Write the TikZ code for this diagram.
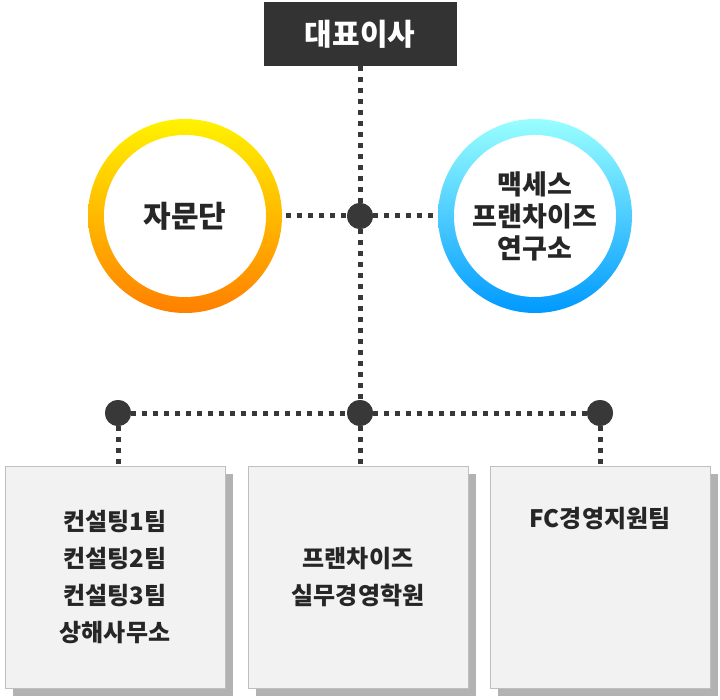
\documentclass[tikz,border=0pt]{standalone}
\usepackage{fontspec}
\setmainfont{Noto Sans CJK KR}
\usetikzlibrary{positioning,shadows}
\definecolor{dotgray}{HTML}{383838}
\begin{document}
\begin{tikzpicture}[x=1pt,y=-1pt,
    link/.style={dotgray, line width=5pt, dash pattern=on 5pt off 6pt},
    joint/.style={circle, fill=dotgray, minimum size=26pt, inner sep=0pt},
    unit/.style={draw=black!25, fill=black!5, minimum width=220pt, minimum height=222pt,
                 font=\fontsize{24pt}{37pt}\selectfont\bfseries, align=center, text=black!85,
                 drop shadow={shadow xshift=8pt, shadow yshift=-8pt, fill=black!30, opacity=1}},
    ring/.style={circle, minimum size=162pt, fill=white, align=center,
                 font=\fontsize{30pt}{34pt}\selectfont\bfseries, text=black!85}]
  \useasboundingbox (0,0) rectangle (720,700);
  % top
  \node[fill=black!80, minimum width=193pt, minimum height=64pt, text=white,
        font=\fontsize{30pt}{34pt}\selectfont\bfseries] (ceo) at (360,34) {대표이사};
  \node[joint] (j1) at (360,216) {};
  \node[joint] (j2) at (360,413) {};
  \node[joint] (jl) at (118,413) {};
  \node[joint] (jr) at (600,413) {};
  % advisors
  \shade[shading angle=135, top color=yellow!90!orange, bottom color=orange] (185,216) circle (97pt);
  \node[ring] (adv) at (185,216) {자문단};
  \shade[shading angle=135, top color=cyan!40, bottom color=cyan!60!blue] (535,216) circle (97pt);
  \node[ring, font=\fontsize{27pt}{32pt}\selectfont\bfseries] (lab) at (535,216) {맥세스\\프랜차이즈\\연구소};
  % teams
  \node[unit] (t1) at (115,577) {컨설팅1팀\\컨설팅2팀\\컨설팅3팀\\상해사무소};
  \node[unit] (t2) at (358,577) {프랜차이즈\\실무경영학원};
  \node[unit, text depth=120pt] (t3) at (600,577) {FC경영지원팀};
  \draw[link] (ceo.south) -- (j1) -- (j2);
  \draw[link] (adv.east) ++(20pt,0) -- (j1) -- ([xshift=-18pt]lab.west);
  \draw[link] (jl) -- (j2) -- (jr);
  \draw[link] (jl) -- (t1.north -| jl);
  \draw[link] (j2) -- (t2.north -| j2);
  \draw[link] (jr) -- (t3.north -| jr);
  \node[joint] at (j1) {};
  \node[joint] at (j2) {};
  \node[joint] at (jl) {};
  \node[joint] at (jr) {};
\end{tikzpicture}
\end{document}
